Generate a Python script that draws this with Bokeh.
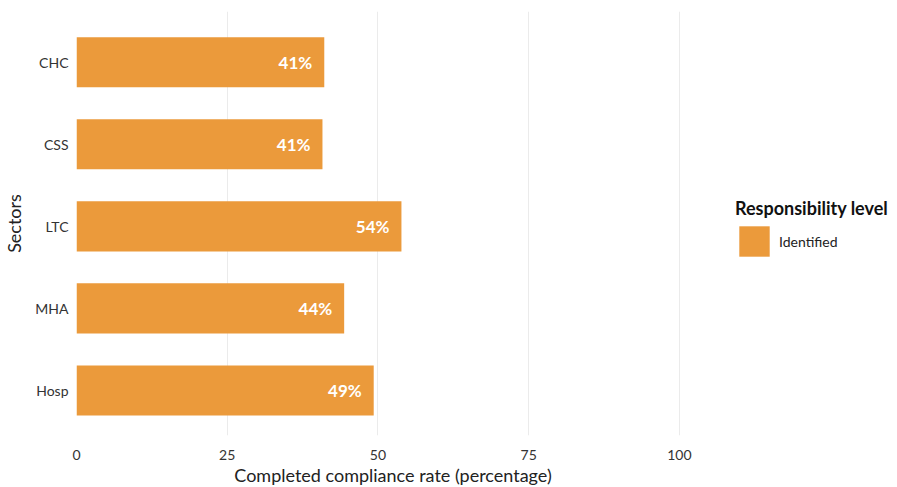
from bokeh.plotting import figure
from bokeh.models import ColumnDataSource, Range1d, FixedTicker, Legend, LegendItem
from bokeh.embed import file_html
from bokeh.resources import INLINE
from bokeh.core.properties import value

sectors = ["CHC", "CSS", "LTC", "MHA", "Hosp"]
rates = [41.1, 40.8, 53.9, 44.4, 49.3]
labels = ["41%", "41%", "54%", "44%", "49%"]
x_ticks = [0, 25, 50, 75, 100]
legend_title = "Responsibility level"
legend_label = "Identified"

FONT = "Lato"
BAR = "#EB9A3B"

n = len(sectors)
ypos = [n - i for i in range(n)]  # top-to-bottom order
src = ColumnDataSource(dict(sector=sectors, y=ypos, rate=rates, label=labels))

p = figure(
    frame_width=633, frame_height=424,
    y_range=Range1d(0.45, n + 0.62),
    x_range=Range1d(0, 105),
    output_backend="svg", toolbar_location=None,
    min_border_left=68, min_border_right=180, min_border_top=11, min_border_bottom=44,
)
p.outline_line_color = None
p.background_fill_color = "white"

r = p.hbar(y="y", right="rate", left=0, height=0.61, source=src,
           fill_color=BAR, line_color=None)

p.text(x="rate", y="y", text="label", source=src, x_offset=-12,
       text_align="right", text_baseline="middle", text_color="white",
       text_font=value(FONT), text_font_style="bold", text_font_size="17px")

# axes
p.xaxis.ticker = FixedTicker(ticks=x_ticks)
p.yaxis.ticker = FixedTicker(ticks=ypos)
p.yaxis.major_label_overrides = {y: s for y, s in zip(ypos, sectors)}
p.xaxis.axis_label = "Completed compliance rate (percentage)"
p.yaxis.axis_label = "Sectors"
for ax in (p.xaxis, p.yaxis):
    ax.axis_line_color = None
    ax.major_tick_line_color = None
    ax.minor_tick_line_color = None
    ax.major_label_text_font = FONT
    ax.major_label_text_font_size = "14px"
    ax.major_label_text_color = "#333333"
    ax.axis_label_text_font = FONT
    ax.axis_label_text_font_style = "normal"
    ax.axis_label_text_color = "#222222"
    ax.axis_label_text_font_size = "18px"
p.xaxis.major_label_standoff = 8
p.yaxis.major_label_standoff = 2
p.xaxis.axis_label_standoff = 1
p.yaxis.axis_label_standoff = 7

p.ygrid.grid_line_color = None
p.xgrid.grid_line_color = "#EBEBEB"
p.xgrid.grid_line_width = 1

legend = Legend(items=[LegendItem(label=legend_label, renderers=[r])],
                title=legend_title, location=(26, 175),
                title_text_font=FONT, title_text_font_style="bold",
                title_text_font_size="18px", title_text_color="#111111",
                label_text_font=FONT, label_text_font_size="14px",
                label_text_color="#222222",
                glyph_width=38, glyph_height=38, label_standoff=6,
                title_standoff=3, border_line_color=None,
                background_fill_alpha=0, margin=0, padding=5, spacing=4)
p.add_layout(legend, "right")

open("out.html", "w").write(file_html(p, INLINE))
